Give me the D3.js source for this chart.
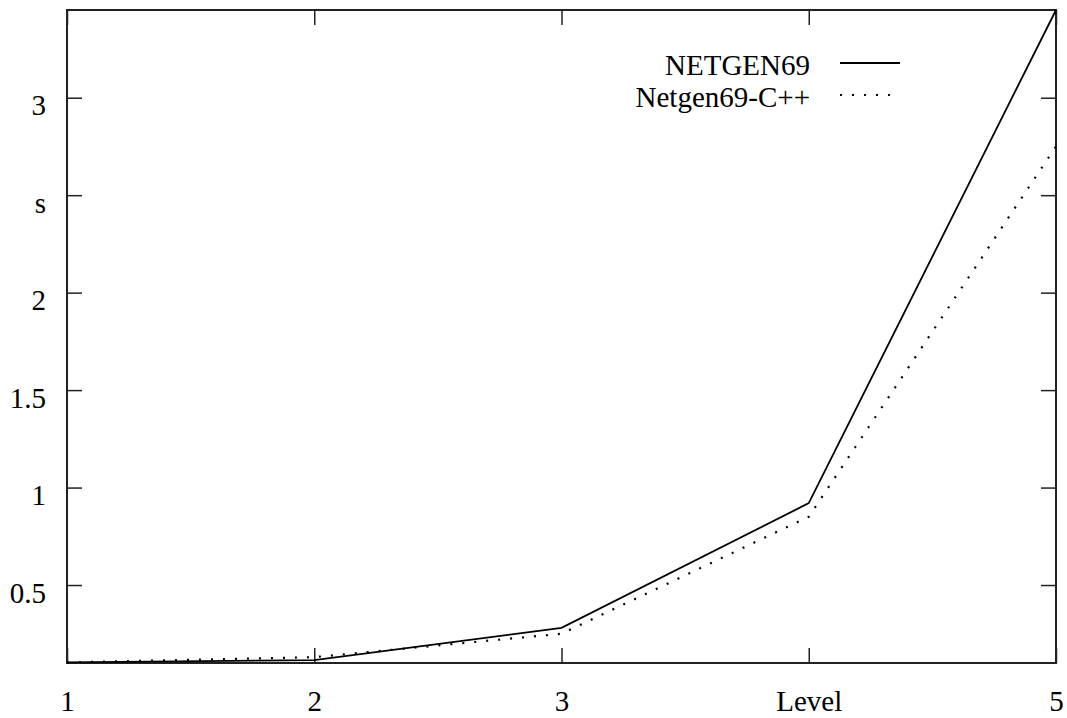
<!DOCTYPE html>
<html>
<head>
<meta charset="utf-8">
<script src="https://cdn.jsdelivr.net/npm/d3@7"></script>
<style>
  body { margin: 0; background: #fff; }
  text { font-family: "Liberation Serif", "Times New Roman", serif; }
</style>
</head>
<body>
<div id="chart"></div>
<script>
// data
const levels = [1, 2, 3, 4, 5];
const netgen69 = [0.103, 0.115, 0.28, 0.92, 3.45];
const netgen69cpp = [0.103, 0.13, 0.25, 0.85, 2.75];
const seriesNames = ["NETGEN69", "Netgen69-C++"];
const xTickValues = [1, 2, 3, 4, 5];
const xTickLabels = ["1", "2", "3", "Level", "5"];
const yTickValues = [0.5, 1, 1.5, 2, 2.5, 3];
const yTickLabels = ["0.5", "1", "1.5", "2", "s", "3"];

const width = 1067, height = 718;
const margin = {top: 10, right: 11, bottom: 55, left: 67};
const fontSize = 29;

const svg = d3.select("#chart").append("svg")
    .attr("width", width)
    .attr("height", height);

const x = d3.scaleLinear().domain([1, 5]).range([margin.left, width - margin.right]);
const y = d3.scaleLinear().domain([0.1, 3.45]).range([height - margin.bottom, margin.top]);

// axes, ticks drawn inward on all four sides
const xFmt = d => xTickLabels[xTickValues.indexOf(d)];
const yFmt = d => yTickLabels[yTickValues.indexOf(d)];

const bottomAxis = svg.append("g")
    .attr("transform", `translate(0,${y.range()[0]})`)
    .call(d3.axisBottom(x).tickValues(xTickValues).tickSize(-15).tickFormat(xFmt));
bottomAxis.selectAll("text")
    .attr("y", 48).attr("dy", null)
    .style("font-size", fontSize + "px").style("fill", "#000");

svg.append("g")
    .attr("transform", `translate(0,${y.range()[1]})`)
    .call(d3.axisTop(x).tickValues(xTickValues).tickSize(-15).tickFormat(""));

const leftAxis = svg.append("g")
    .attr("transform", `translate(${x.range()[0]},0)`)
    .call(d3.axisLeft(y).tickValues(yTickValues).tickSize(-15).tickFormat(yFmt));
leftAxis.selectAll("text")
    .attr("x", -21).attr("y", 17).attr("dy", null)
    .style("font-size", fontSize + "px").style("fill", "#000");

svg.append("g")
    .attr("transform", `translate(${x.range()[1]},0)`)
    .call(d3.axisRight(y).tickValues(yTickValues).tickSize(-15).tickFormat(""));

svg.selectAll(".domain").remove();
svg.selectAll(".tick line").attr("stroke", "#222").attr("stroke-width", 1.5);

// border
svg.append("rect")
    .attr("x", x.range()[0])
    .attr("y", y.range()[1])
    .attr("width", x.range()[1] - x.range()[0])
    .attr("height", y.range()[0] - y.range()[1])
    .attr("fill", "none")
    .attr("stroke", "#222")
    .attr("stroke-width", 2);

// lines
const line = d3.line()
    .x((d, i) => x(levels[i]))
    .y(d => y(d));

const dashes = [null, "2,10"];
[netgen69, netgen69cpp].forEach((s, k) => {
    svg.append("path")
        .datum(s)
        .attr("d", line)
        .attr("fill", "none")
        .attr("stroke", "#000")
        .attr("stroke-width", k === 0 ? 1.8 : 2.2)
        .attr("stroke-dasharray", dashes[k]);
});

// legend
const legend = svg.append("g");
seriesNames.forEach((name, k) => {
    const by = 75 + k * 32;
    legend.append("text")
        .attr("x", 810)
        .attr("y", by)
        .attr("text-anchor", "end")
        .style("font-size", fontSize + "px")
        .style("fill", "#000")
        .text(name);
    legend.append("line")
        .attr("x1", 840).attr("x2", 900)
        .attr("y1", by - 12).attr("y2", by - 12)
        .attr("stroke", "#000")
        .attr("stroke-width", k === 0 ? 1.8 : 2.2)
        .attr("stroke-dasharray", dashes[k]);
});
</script>
</body>
</html>
